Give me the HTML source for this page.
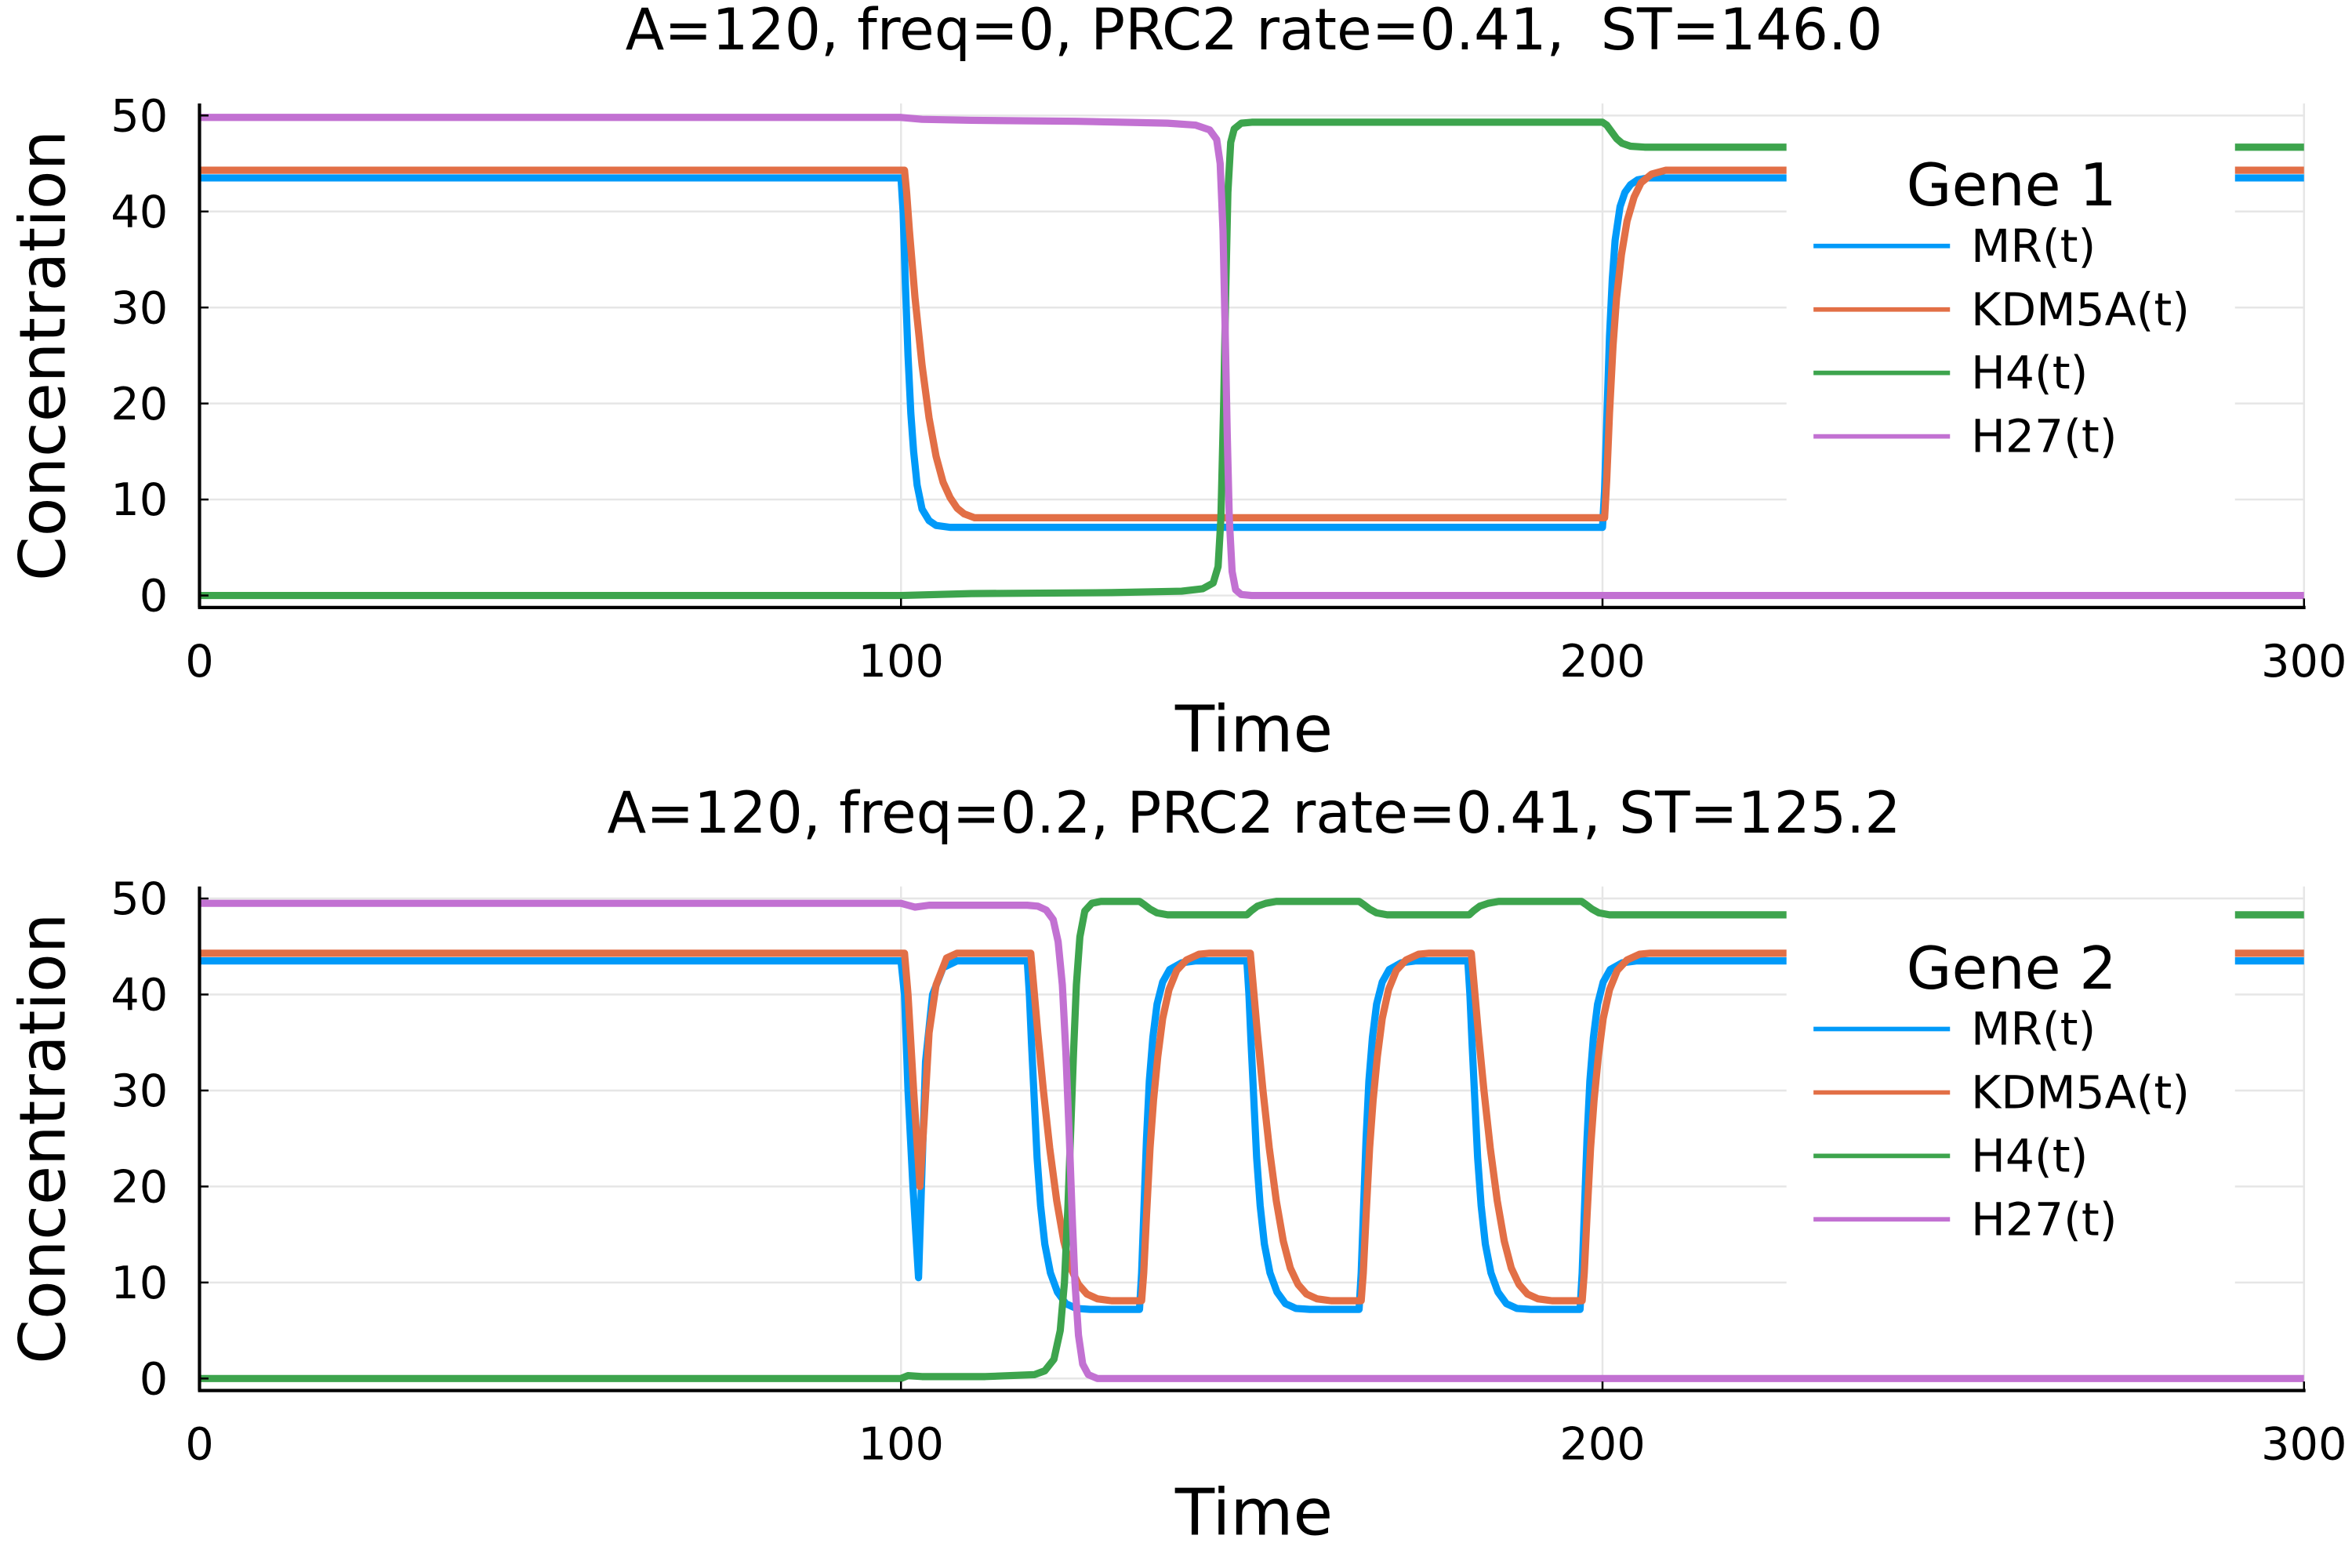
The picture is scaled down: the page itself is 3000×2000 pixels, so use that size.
<!DOCTYPE html>
<html><head><meta charset="utf-8">
<style>
html,body{margin:0;padding:0;background:#fff;}
svg{display:block;}
text{font-family:"DejaVu Sans","Liberation Sans",sans-serif;fill:#000;white-space:pre;}
</style></head>
<body>
<svg id="fig" xmlns="http://www.w3.org/2000/svg" width="3000" height="2000" viewBox="0 0 1568 1045.33" preserveAspectRatio="none">
<rect width="1568" height="1046" fill="#fff"/>
</svg>
<script>
// ---- data ----
const xTicks = [0, 100, 200, 300];
const yTicks = [0, 10, 20, 30, 40, 50];
const seriesNames = ["MR(t)", "KDM5A(t)", "H4(t)", "H27(t)"];
const seriesColors = ["#009af9", "#e26f46", "#3da44d", "#c271d2"];
const titles = ["A=120, freq=0, PRC2 rate=0.41,  ST=146.0", "A=120, freq=0.2, PRC2 rate=0.41, ST=125.2"];
const legendTitles = ["Gene 1", "Gene 2"];

// panel 1 (time, value pairs)
const p1_MR = [[0,43.5],[100,43.5],[100.3,40],[100.6,33],[101,25],[101.4,19],[101.8,15],[102.3,11.5],[103,9],[104,7.8],[105,7.3],[107,7.1],[200,7.1],[200.3,11],[200.6,18],[201,27],[201.4,33],[201.8,37],[202.5,40.5],[203.2,42],[204,42.8],[205,43.3],[206.5,43.5],[300,43.5]];
const p1_KDM = [[0,44.3],[100.5,44.3],[100.8,42],[101.2,38],[102,31],[103,24],[104,18.5],[105,14.5],[106,11.8],[107,10.2],[108,9.1],[109,8.5],[110.5,8.1],[200.3,8.1],[200.6,12],[201,19],[201.5,26],[202,31],[202.7,35.5],[203.5,39],[204.5,41.5],[205.5,43],[207,43.9],[209,44.3],[300,44.3]];
const p1_H4 = [[0,0],[100,0],[110,0.2],[130,0.3],[140,0.45],[143,0.7],[144.5,1.3],[145.2,3],[145.6,8],[146,20],[146.3,32],[146.6,42],[147,47.2],[147.5,48.6],[148.5,49.2],[150,49.3],[200,49.3],[200.6,49],[201.3,48.3],[202,47.6],[202.8,47.1],[204,46.8],[206,46.7],[300,46.7]];
const p1_H27 = [[0,49.8],[100,49.8],[103,49.6],[110,49.5],[125,49.4],[138,49.2],[142,49],[144,48.5],[145,47.5],[145.5,45],[145.9,38],[146.2,28],[146.5,17],[146.8,8],[147.2,2.5],[147.7,0.6],[148.5,0.1],[150,0],[300,0]];

// panel 2
const p2_MR = [[0,43.5],[100,43.5],[100.5,40],[101,30],[101.7,20],[102.5,10.5],[103,22],[103.5,33],[104.5,40],[106,42.8],[108,43.5],
 [118,43.5],[118.3,40],[118.6,35],[119,29],[119.4,23],[119.9,18],[120.5,14],[121.3,11],[122.3,9],[123.5,7.8],[125,7.3],[127,7.2],[134,7.2],[134.3,11],[134.6,17],[135,25],[135.4,31],[135.9,35.5],[136.5,39],[137.3,41.3],[138.3,42.6],[140,43.3],[142,43.5],
 [149.3,43.5],[149.6,40],[149.9,35],[150.3,29],[150.7,23],[151.2,18],[151.8,14],[152.6,11],[153.6,9],[154.8,7.8],[156.3,7.3],[158.3,7.2],[165.3,7.2],[165.6,11],[165.9,17],[166.3,25],[166.7,31],[167.2,35.5],[167.8,39],[168.6,41.3],[169.6,42.6],[171.3,43.3],[173.3,43.5],
 [180.8,43.5],[181.1,40],[181.4,35],[181.8,29],[182.2,23],[182.7,18],[183.3,14],[184.1,11],[185.1,9],[186.3,7.8],[187.8,7.3],[189.8,7.2],[196.8,7.2],[197.1,11],[197.4,17],[197.8,25],[198.2,31],[198.7,35.5],[199.3,39],[200.1,41.3],[201.1,42.6],[202.8,43.3],[204.8,43.5],[300,43.5]];
const p2_KDM = [[0,44.3],[100.5,44.3],[101,40],[101.8,30],[102.7,20],[103.3,27],[104,36],[105,41],[106.5,43.8],[108,44.3],
 [118.5,44.3],[118.9,41],[119.5,36],[120.3,30],[121.2,24],[122.2,18.5],[123.2,14.3],[124.2,11.5],[125.3,9.8],[126.5,8.8],[128,8.3],[130,8.1],[134.3,8.1],[134.6,11],[135,17],[135.5,24],[136,29],[136.6,33.5],[137.3,37.5],[138.2,40.5],[139.3,42.5],[140.7,43.6],[142.5,44.2],[144,44.3],
 [149.8,44.3],[150.2,41],[150.8,36],[151.6,30],[152.5,24],[153.5,18.5],[154.5,14.3],[155.5,11.5],[156.6,9.8],[157.8,8.8],[159.3,8.3],[161.3,8.1],[165.6,8.1],[165.9,11],[166.3,17],[166.8,24],[167.3,29],[167.9,33.5],[168.6,37.5],[169.5,40.5],[170.6,42.5],[172,43.6],[173.8,44.2],[175.3,44.3],
 [181.3,44.3],[181.7,41],[182.3,36],[183.1,30],[184,24],[185,18.5],[186,14.3],[187,11.5],[188.1,9.8],[189.3,8.8],[190.8,8.3],[192.8,8.1],[197.1,8.1],[197.4,11],[197.8,17],[198.3,24],[198.8,29],[199.4,33.5],[200.1,37.5],[201,40.5],[202.1,42.5],[203.5,43.6],[205.3,44.2],[206.8,44.3],[300,44.3]];
const p2_H4 = [[0,0],[100,0],[101,0.3],[103,0.2],[112,0.2],[119,0.4],[120.5,0.8],[121.8,2],[122.7,5],[123.3,10],[123.8,18],[124.2,26],[124.6,34],[125,41],[125.5,46],[126.2,48.7],[127.2,49.5],[128.5,49.7],[134,49.7],[134.6,49.4],[135.5,48.9],[136.5,48.5],[138,48.3],[149.3,48.3],[149.9,48.7],[150.8,49.2],[152,49.5],[153.5,49.7],[165.3,49.7],[165.9,49.4],[166.8,48.9],[167.8,48.5],[169.3,48.3],[181,48.3],[181.6,48.7],[182.5,49.2],[183.7,49.5],[185.2,49.7],[197,49.7],[197.6,49.4],[198.5,48.9],[199.5,48.5],[201,48.3],[300,48.3]];
const p2_H27 = [[0,49.5],[100,49.5],[101,49.3],[102,49.1],[104,49.3],[118,49.3],[119.5,49.2],[120.7,48.8],[121.7,47.8],[122.4,45.5],[123,41],[123.5,34],[124,25],[124.4,17],[124.8,10],[125.3,4.5],[125.9,1.5],[126.7,0.4],[128,0],[300,0]];

const panels = [
  {top:77, series:[p1_MR,p1_KDM,p1_H4,p1_H27]},
  {top:599, series:[p2_MR,p2_KDM,p2_H4,p2_H27]}
];

// ---- drawing ----
const NS = "http://www.w3.org/2000/svg";
const svg = document.getElementById("fig");
function mk(tag, attrs, parent, text){
  const e = document.createElementNS(NS, tag);
  for (const k in attrs) e.setAttribute(k, attrs[k]);
  if (text !== undefined) e.textContent = text;
  (parent||svg).appendChild(e);
  return e;
}
const X0 = 133, X1 = 1536;
const xs = t => X0 + (t/300)*(X1-X0);

panels.forEach((p, pi) => {
  const y50 = p.top, y0 = p.top + 320;
  const ys = v => y0 - (v/50)*(y0-y50);
  const g = mk("g", {});
  
  

  const title = mk("text", {x: 836, y: p.top - 44, "font-size": 38, "text-anchor": "middle"}, g, titles[pi]);
  
  

  yTicks.forEach(v => {
    const l = mk("line", {x1: X0, x2: X1, y1: ys(v), y2: ys(v), stroke: "#e6e6e6", "stroke-width": 1.3}, g);
    
    
  });
  xTicks.forEach(t => {
    const l = mk("line", {x1: xs(t), x2: xs(t), y1: y50 - 8, y2: y0 + 8, stroke: "#e6e6e6", "stroke-width": 1.3}, g);
    
    
  });

  p.series.forEach((s, si) => {
    const pts = s.map(d => xs(d[0]).toFixed(2) + "," + ys(d[1]).toFixed(2)).join(" ");
    const pl = mk("polyline", {points: pts, fill: "none", stroke: seriesColors[si], "stroke-width": 4.8, "stroke-linejoin": "round", "stroke-linecap": "butt"}, g);
    
    
  });

  const ax = mk("line", {x1: X0, x2: X0, y1: y50 - 8, y2: y0 + 8, stroke: "#000", "stroke-width": 2.2}, g);
  
  
  const bx = mk("line", {x1: X0 - 1, x2: X1 + 1, y1: y0 + 8, y2: y0 + 8, stroke: "#000", "stroke-width": 2.2}, g);
  
  

  yTicks.forEach(v => {
    const tk = mk("line", {x1: X0, x2: X0 + 6, y1: ys(v), y2: ys(v), stroke: "#000", "stroke-width": 1.3}, g);
    
    
    const lb = mk("text", {x: 112, y: ys(v) + 10.5, "font-size": 30, "text-anchor": "end"}, g, String(v));
    
    
  });
  xTicks.forEach(t => {
    const tk = mk("line", {x1: xs(t), x2: xs(t), y1: y0 + 8, y2: y0 + 2, stroke: "#000", "stroke-width": 1.3}, g);
    
    
    const lb = mk("text", {x: xs(t), y: y0 + 54, "font-size": 30, "text-anchor": "middle"}, g, String(t));
    
    
  });

  const xl = mk("text", {x: 836, y: y0 + 104, "font-size": 43, "text-anchor": "middle"}, g, "Time");
  
  
  const yl = mk("text", {x: 0, y: 0, "font-size": 42.5, "text-anchor": "middle", transform: "translate(43," + (y0 - 160) + ") rotate(-90)"}, g, "Concentration");
  
  

  const lg = mk("g", {}, g);
  
  
  const lbg = mk("rect", {x: 1191, y: p.top + 8, width: 299, height: 290, fill: "#fff"}, lg);
  
  
  const lt = mk("text", {x: 1341, y: p.top + 60, "font-size": 39, "text-anchor": "middle"}, lg, legendTitles[pi]);
  
  
  seriesNames.forEach((n, si) => {
    const ey = p.top + 87 + si * 42.3;
    const ll = mk("line", {x1: 1209, x2: 1300, y1: ey, y2: ey, stroke: seriesColors[si], "stroke-width": 3}, lg);
    
    
    const tx = mk("text", {x: 1314, y: ey + 10.5, "font-size": 30.5}, lg, n);
    
    
  });
});
</script>
</body></html>
